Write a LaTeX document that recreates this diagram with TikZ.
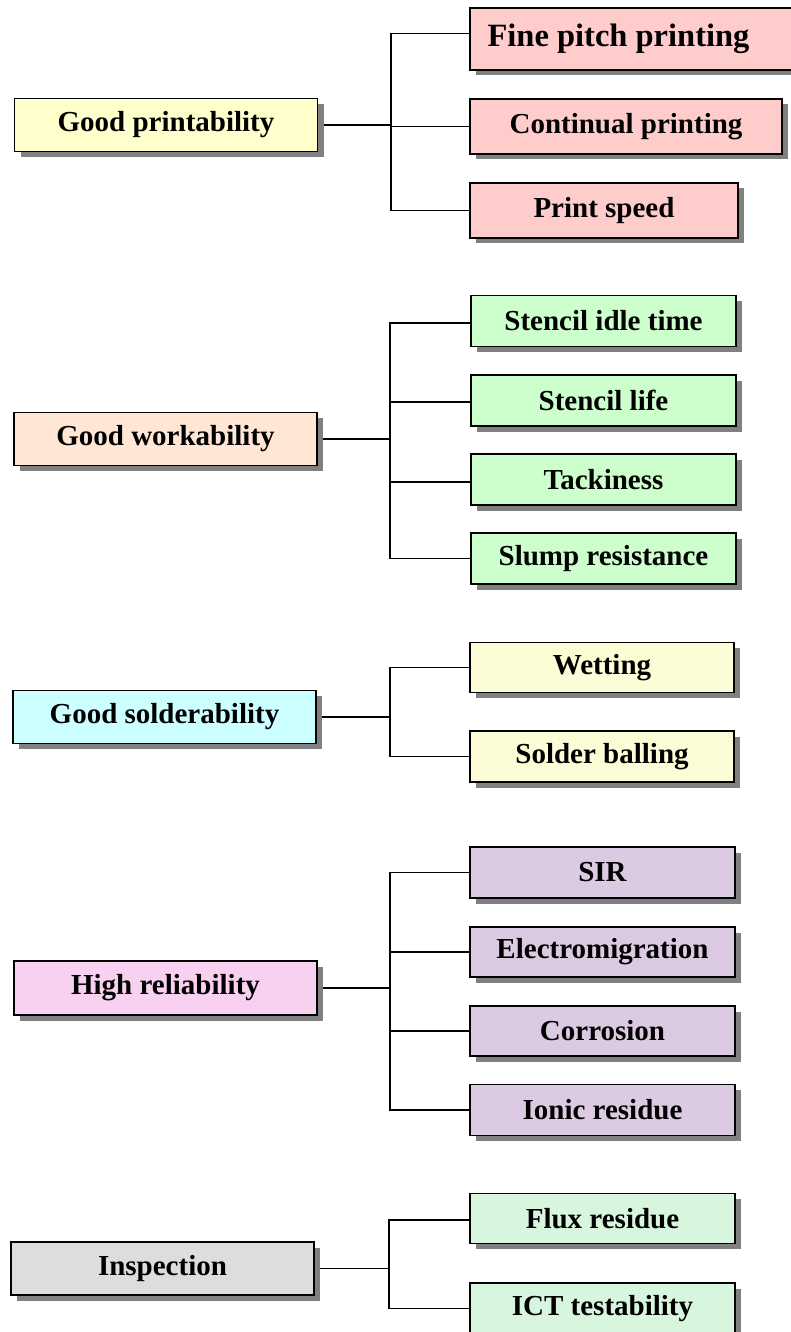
\documentclass[tikz,border=0pt]{standalone}
\usepackage{fontspec}
\setmainfont{Liberation Serif}
\usetikzlibrary{shadows,backgrounds}
\definecolor{cYel}{HTML}{FFFFCC}
\definecolor{cPink}{HTML}{FFCCCC}
\definecolor{cPeach}{HTML}{FFE6D5}
\definecolor{cGreen}{HTML}{CCFFCC}
\definecolor{cCyan}{HTML}{CCFFFF}
\definecolor{cPaleY}{HTML}{FCFCD6}
\definecolor{cMag}{HTML}{F8D0F0}
\definecolor{cLav}{HTML}{DBCAE2}
\definecolor{cGray}{HTML}{DDDDDD}
\definecolor{cMint}{HTML}{D8F5DE}
\tikzset{
  box/.style={draw=black, line width=1.6pt, inner sep=0pt, align=center,
    font=\fontsize{29}{31}\selectfont\bfseries,
    drop shadow={shadow xshift=6pt, shadow yshift=-5.5pt, fill=black!50, opacity=1}},
  parent/.style={box, minimum width=303pt, minimum height=53pt},
  child/.style={box, minimum width=265pt, minimum height=51pt},
  link/.style={draw=black, line width=1.5pt}
}
\begin{document}
\begin{tikzpicture}[x=1pt,y=-1pt]
\useasboundingbox (0,0) rectangle (790,1332);
% group 1
\node[parent, fill=cYel] (gp) at (166,125) {Good printability};
\node[box, fill=cPink, minimum width=323pt, minimum height=62pt, font=\fontsize{32.5}{34}\selectfont\bfseries] (fp) at (631.5,39) {\hspace*{-26pt}Fine pitch printing};
\node[box, fill=cPink, minimum width=312pt, minimum height=55pt] (cp) at (626,126.5) {Continual printing};
\node[box, fill=cPink, minimum width=268pt, minimum height=55pt] (ps) at (604,210.5) {Print speed};
\coordinate (b1) at (391,0);
% group 2
\node[parent, fill=cPeach] (gw) at (165.5,439) {Good workability};
\node[child, fill=cGreen] (sit) at (603.5,321) {Stencil idle time};
\node[child, fill=cGreen] (sl) at (603.5,400.5) {Stencil life};
\node[child, fill=cGreen] (tk) at (603.5,479.5) {Tackiness};
\node[child, fill=cGreen] (sr) at (603.5,558.5) {Slump resistance};
\coordinate (b2) at (390,0);
% group 3
\node[parent, fill=cCyan] (gs) at (164.5,717) {Good solderability};
\node[child, fill=cPaleY, minimum width=264pt, minimum height=50pt] (wt) at (602,667.5) {Wetting};
\node[child, fill=cPaleY, minimum width=264pt] (sb) at (602,756.5) {Solder balling};
\coordinate (b3) at (390,0);
% group 4
\node[parent, fill=cMag, minimum height=54pt] (hr) at (165.5,988) {High reliability};
\node[child, fill=cLav] (sir) at (602.5,872.5) {SIR};
\node[child, fill=cLav, minimum height=50pt] (em) at (602.5,952) {Electromigration};
\node[child, fill=cLav, minimum height=50pt] (co) at (602.5,1031) {Corrosion};
\node[child, fill=cLav] (ir) at (602.5,1110) {Ionic residue};
\coordinate (b4) at (390,0);
% group 5
\node[parent, fill=cGray] (in) at (162.5,1268.5) {Inspection};
\node[child, fill=cMint, minimum height=50pt] (fr) at (602.5,1218.5) {Flux residue};
\node[child, fill=cMint] (ict) at (602.5,1308.5) {ICT testability};
\coordinate (b5) at (389,0);
\begin{scope}[on background layer]
% connectors group 1
\draw[link] (gp.east) -- (gp.east -| b1);
\draw[link] ([yshift=5.5pt]fp.west) -- ([yshift=5.5pt]fp.west -| b1) -- (ps.west -| b1) -- (ps.west);
\draw[link] (cp.west) -- (cp.west -| b1);
% group 2
\draw[link] (gw.east) -- (gw.east -| b2);
\draw[link] ([yshift=-2pt]sit.west) -- ([yshift=-2pt]sit.west -| b2) -- (sr.west -| b2) -- (sr.west);
\draw[link] ([yshift=-1.5pt]sl.west) -- ([yshift=-1.5pt]sl.west -| b2);
\draw[link] ([yshift=-2.5pt]tk.west) -- ([yshift=-2.5pt]tk.west -| b2);
% group 3
\draw[link] (gs.east) -- (gs.east -| b3);
\draw[link] (wt.west) -- (wt.west -| b3) -- (sb.west -| b3) -- (sb.west);
% group 4
\draw[link] (hr.east) -- (hr.east -| b4);
\draw[link] (sir.west) -- (sir.west -| b4) -- (ir.west -| b4) -- (ir.west);
\draw[link] (em.west) -- (em.west -| b4);
\draw[link] (co.west) -- (co.west -| b4);
% group 5
\draw[link] (in.east) -- (in.east -| b5);
\draw[link] ([yshift=-1.5pt]fr.west) -- ([yshift=-1.5pt]fr.west -| b5) -- (ict.west -| b5) -- (ict.west);
\end{scope}
\end{tikzpicture}
\end{document}
